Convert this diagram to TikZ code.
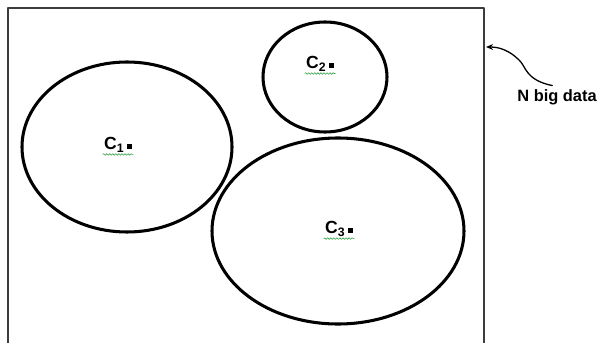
\documentclass[tikz,border=0pt]{standalone}
\usepackage{fontspec}
\setmainfont{Liberation Sans}
\usetikzlibrary{arrows.meta,decorations.pathmorphing}
\definecolor{framegray}{HTML}{3C3C3C}
\definecolor{spellgreen}{HTML}{2EA043}

\begin{document}
\begin{tikzpicture}[x=0.03cm, y=-0.03cm, line cap=round, line join=round,
  cluster/.style={line width=2.6pt},
  clabel/.style={font=\fontsize{15}{17}\selectfont\bfseries, inner sep=1pt},
  squiggle/.style={spellgreen, line width=0.5pt, decorate,
    decoration={snake, amplitude=0.7pt, segment length=2.6pt}}]
  \useasboundingbox (0,0) rectangle (597,343);

  % the whole data set, open at the bottom
  \draw[framegray, line width=1.1pt] (8,343) -- (8,8) -- (484,8) -- (484,343);

  % three clusters
  \draw[cluster] (127,147) ellipse [x radius=105, y radius=85];
  \draw[cluster] (325,77) ellipse [x radius=62, y radius=55];
  \draw[cluster] (338,231) ellipse [x radius=126, y radius=93];

  % centres
  \node[clabel] (c1) at (118,145) {C\textsubscript{1}\,\raisebox{1pt}{\rule{4pt}{4pt}}};
  \node[clabel] (c2) at (320,64) {C\textsubscript{2}\,\raisebox{1pt}{\rule{4pt}{4pt}}};
  \node[clabel] (c3) at (339,229) {C\textsubscript{3}\,\raisebox{1pt}{\rule{4pt}{4pt}}};
  \foreach \c in {c1,c2,c3}
    \draw[squiggle] ([yshift=-0.5pt]\c.south west) -- ([yshift=-0.5pt]\c.south east);

  % label pointing at the frame
  \node[clabel, font=\fontsize{14}{16}\selectfont\bfseries] (bigdata) at (557,97) {N big data};
  \coordinate (tail) at ([xshift=-4pt,yshift=2pt]bigdata.north);
  \coordinate (edge) at (486,47);
  \draw[line width=1.1pt, -{Stealth[length=6pt,width=5pt]}] (tail)
    .. controls (525,80) and (526,66) .. (519,60)
    .. controls (510,51) and (500,47) .. (edge);
\end{tikzpicture}
\end{document}
